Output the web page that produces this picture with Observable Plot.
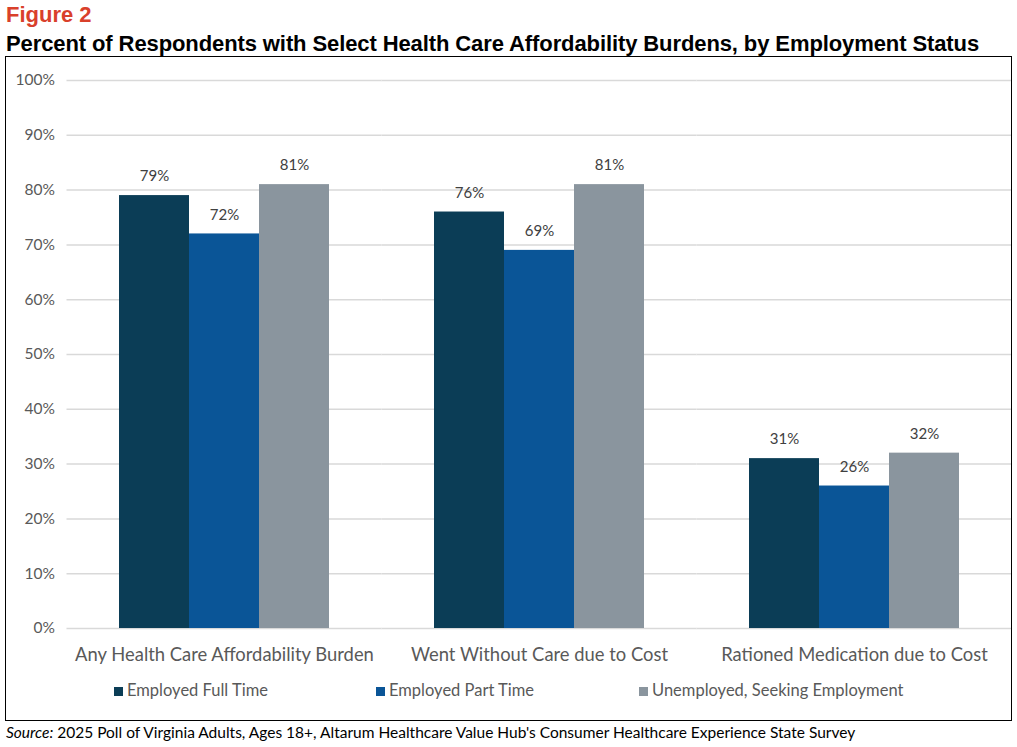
<!DOCTYPE html>
<html><head><meta charset="utf-8">
<script src="https://cdn.jsdelivr.net/npm/d3@7"></script>
<script src="https://cdn.jsdelivr.net/npm/@observablehq/plot@0.6"></script>
<style>
body{margin:0;background:#fff;font-family:Lato,sans-serif;}
#fig{position:absolute;left:6px;top:2px;color:#d9402b;font:bold 22px "Liberation Sans",sans-serif;}
#title{position:absolute;left:6px;top:31px;color:#000;font:bold 22px "Liberation Sans",sans-serif;letter-spacing:-0.1px;white-space:nowrap}
#box{position:absolute;left:5px;top:56px;width:1005px;height:663px;border:1.5px solid #000;}
#chart{position:absolute;left:0;top:1px;}
#legend{position:absolute;top:623px;left:0;width:1005px;font:16.5px Lato,sans-serif;color:#595959;}
#legend span{position:absolute;white-space:nowrap}
#legend i{display:inline-block;width:9px;height:9px;margin-right:4px;}
#src{position:absolute;left:6px;top:723px;font:15.5px Lato,sans-serif;color:#000;white-space:nowrap}
</style></head><body>
<div id="fig">Figure 2</div>
<div id="title">Percent of Respondents with Select Health Care Affordability Burdens, by Employment Status</div>
<div id="box"><div id="chart"></div><div id="legend"></div></div>
<div id="src"><i>Source:</i> 2025 Poll of Virginia Adults, Ages 18+, Altarum Healthcare Value Hub's Consumer Healthcare Experience State Survey</div>
<script>
const categories = ["Any Health Care Affordability Burden","Went Without Care due to Cost","Rationed Medication due to Cost"];
const series = ["Employed Full Time","Employed Part Time","Unemployed, Seeking Employment"];
const colors = ["#0b3d56","#0a5597","#8a959e"];
const fullTime = [79,76,31];
const partTime = [72,69,26];
const unemployed = [81,81,32];
const yTicks = [0,10,20,30,40,50,60,70,80,90,100];

const vals = [fullTime, partTime, unemployed];
const data = [];
categories.forEach((c,i)=>series.forEach((s,j)=>data.push({cat:c, ser:s, v:vals[j][i]})));

const chart = Plot.plot({
  width:1005, height:612, marginLeft:60, marginRight:0, marginTop:22, marginBottom:42,
  style:{fontFamily:"Lato, sans-serif", color:"#595959"},
  fx:{domain:categories, paddingInner:1/3, paddingOuter:1/6, label:null},
  x:{domain:series, padding:0, axis:null},
  y:{domain:[0,100], label:null, axis:null},
  color:{domain:series, range:colors},
  marks:[
    Plot.ruleY(yTicks,{stroke:"#d9d9d9", strokeWidth:1.5, insetLeft:-52.5, insetRight:-52.5}),
    Plot.axisY(yTicks,{tickSize:0, tickPadding:12, dx:-52.5, tickFormat:d=>d+"%", fontSize:15.5, fill:"#595959", label:null}),
    Plot.barY(data,{fx:"cat", x:"ser", y:"v", fill:"ser"}),
    Plot.text(data,{fx:"cat", x:"ser", y:"v", text:d=>d.v+"%", dy:-19, fontSize:15, fill:"#404040"}),
    Plot.axisFx({anchor:"bottom", tickSize:0, tickPadding:19, fontSize:18.4, fill:"#595959", label:null})
  ]
});
document.getElementById("chart").append(chart);
const lg = document.getElementById("legend");
const lx = [108, 370, 633];
series.forEach((s,i)=>{const e=document.createElement("span");e.style.left=lx[i]+"px";e.innerHTML=`<i style="background:${colors[i]}"></i>${s}`;lg.append(e);});
</script>
</body></html>
